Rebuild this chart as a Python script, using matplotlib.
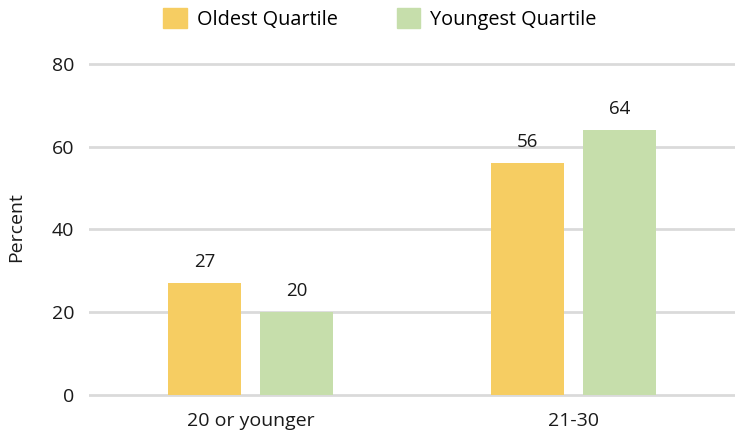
import matplotlib
matplotlib.use("Agg")
import matplotlib.pyplot as plt
from matplotlib.patches import Patch
import numpy as np

categories = ["20 or younger", "21-30"]
series_names = ["Oldest Quartile", "Youngest Quartile"]
oldest = [27, 56]
youngest = [20, 64]
yticks = [0, 20, 40, 60, 80]

colors = ["#F6CD62", "#C6DEAB"]
plt.rcParams['font.family'] = ['Open Sans', 'DejaVu Sans']
FS = 14

fig = plt.figure(figsize=(7.35, 4.38), dpi=100)
ax = fig.add_axes([89/735, 1-399.1/438, 1-89/735, (399.1-55.7)/438])

x = np.arange(len(categories))
w = 0.225
off = 0.142
b1 = ax.bar(x - off, oldest, w, color=colors[0], zorder=3)
b2 = ax.bar(x + off, youngest, w, color=colors[1], zorder=3)

for bars in (b1, b2):
    for r in bars:
        ax.annotate(f"{r.get_height():g}", (r.get_x() + r.get_width()/2, r.get_height()),
                    xytext=(0, 9), textcoords="offset points", ha="center", va="bottom",
                    fontsize=13.5, color="#1a1a1a")

ax.set_xlim(-0.5, 1.5)
ax.set_ylim(-1, 82)
ax.set_yticks(yticks)
ax.set_yticklabels([str(t) for t in yticks])
for t in yticks:
    ax.axhline(t, color="#DADADA", lw=2, zorder=1)
ax.set_xticks(x)
ax.set_xticklabels(categories)
ax.tick_params(axis="both", length=0, labelsize=FS, colors="#1a1a1a")
ax.tick_params(axis="y", pad=10.5)
ax.tick_params(axis="x", pad=9)
for s in ax.spines.values():
    s.set_visible(False)
ax.set_ylabel("Percent", fontsize=FS, color="#1a1a1a", labelpad=19)

handles = [Patch(color=c) for c in colors]
fig.legend(handles, series_names, loc="center", bbox_to_anchor=(380/735, 1-19/438),
           ncol=2, frameon=False, fontsize=14.3, handlelength=1.18, handleheight=1.18,
           columnspacing=3.0, handletextpad=0.5)

fig.savefig("out.png", dpi=100)
